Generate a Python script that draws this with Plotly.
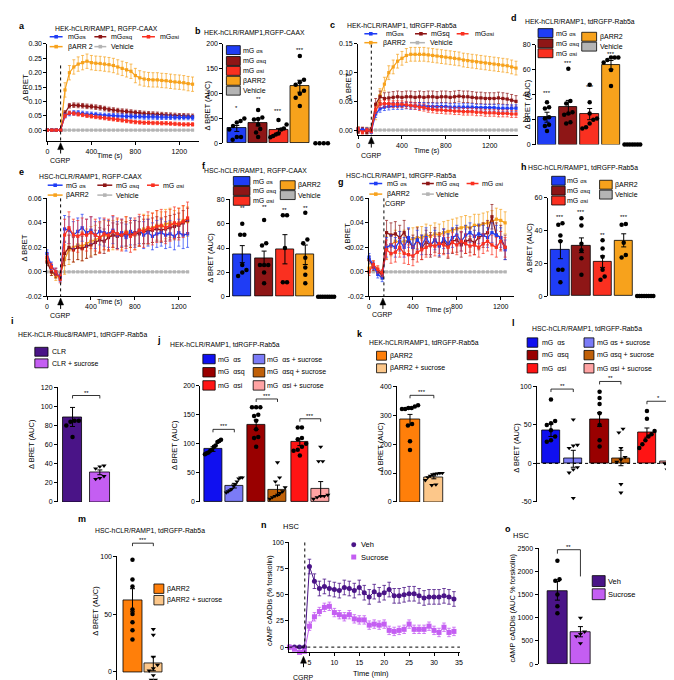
import plotly.graph_objects as go

W, H = 674, 680
FONT = "Liberation Sans, Arial, Helvetica, sans-serif"

# ------------------------------------------------------------------ data
# time-course panels (Delta BRET)
T_A = [0, 40, 80, 120, 160, 200, 240, 280, 320, 360, 400, 440, 480, 520, 560, 600, 640, 680, 720, 760,
       800, 840, 880, 920, 960, 1000, 1040, 1080, 1120, 1160, 1200, 1240, 1280, 1320]
A_S = [0.000, 0.000, 0.000, 0.000, 0.050, 0.058, 0.060, 0.060, 0.058, 0.056, 0.055, 0.054, 0.052, 0.051,
       0.050, 0.050, 0.049, 0.049, 0.048, 0.048, 0.047, 0.047, 0.046, 0.046, 0.046, 0.045, 0.045, 0.045,
       0.045, 0.044, 0.044, 0.044, 0.044, 0.043]
A_SQ = [0.000, 0.000, 0.000, 0.000, 0.060, 0.085, 0.087, 0.086, 0.085, 0.083, 0.082, 0.080, 0.078, 0.075,
        0.072, 0.070, 0.068, 0.066, 0.065, 0.063, 0.061, 0.060, 0.058, 0.057, 0.056, 0.055, 0.054, 0.053,
        0.052, 0.051, 0.050, 0.050, 0.049, 0.048]
A_SI = [0.000, 0.000, 0.000, 0.000, 0.050, 0.060, 0.058, 0.055, 0.053, 0.050, 0.048, 0.046, 0.044, 0.042,
        0.040, 0.038, 0.036, 0.034, 0.032, 0.030, 0.028, 0.027, 0.026, 0.026, 0.025, 0.025, 0.024, 0.024,
        0.023, 0.022, 0.021, 0.020, 0.020, 0.020]
A_ARR = [0.000, 0.000, 0.000, 0.000, 0.140, 0.200, 0.220, 0.230, 0.235, 0.240, 0.235, 0.233, 0.232, 0.230,
         0.228, 0.225, 0.220, 0.215, 0.210, 0.205, 0.190, 0.182, 0.178, 0.176, 0.175, 0.175, 0.173, 0.172,
         0.170, 0.168, 0.167, 0.165, 0.162, 0.160]
A_VEH = [0.0, 0.0, 0.0, 0.0, 0.0, 0.0, 0.0, 0.0, 0.0, 0.0, 0.0, 0.0, 0.0, 0.0, 0.0, 0.0, 0.0, 0.0, 0.0, 0.0,
         0.0, 0.0, 0.0, 0.0, 0.0, 0.0, 0.0, 0.0, 0.0, 0.0, 0.0, 0.0, 0.0, 0.0]
A_ERR = [0.008, 0.008, 0.006, 0.025, 0.001]   # post-CGRP SEM for S, SQ, SI, ARR, Vehicle

T_C = [0, 40, 80, 120, 160, 200, 240, 280, 320, 360, 400, 440, 480, 520, 560, 600, 640, 680, 720, 760,
       800, 840, 880, 920, 960, 1000, 1040, 1080, 1120, 1160, 1200, 1240, 1280, 1320, 1360, 1400, 1440]
C_S = [0.002, 0.000, 0.001, -0.003, 0.028, 0.037, 0.040, 0.041, 0.042, 0.042, 0.042, 0.043, 0.042, 0.042,
       0.042, 0.042, 0.041, 0.041, 0.041, 0.041, 0.041, 0.040, 0.040, 0.040, 0.040, 0.040, 0.040, 0.039,
       0.039, 0.039, 0.039, 0.039, 0.038, 0.038, 0.038, 0.038, 0.038]
C_SQ = [-0.003, 0.002, -0.004, 0.002, 0.045, 0.058, 0.055, 0.056, 0.057, 0.058, 0.057, 0.058, 0.058, 0.057,
        0.058, 0.057, 0.058, 0.058, 0.057, 0.058, 0.058, 0.057, 0.058, 0.059, 0.058, 0.058, 0.057, 0.056,
        0.056, 0.055, 0.055, 0.055, 0.056, 0.055, 0.054, 0.052, 0.050]
C_SI = [0.002, -0.004, 0.000, -0.002, 0.035, 0.045, 0.046, 0.046, 0.045, 0.045, 0.045, 0.044, 0.043, 0.042,
        0.040, 0.039, 0.037, 0.036, 0.035, 0.035, 0.034, 0.034, 0.033, 0.033, 0.032, 0.032, 0.032, 0.031,
        0.031, 0.030, 0.030, 0.030, 0.029, 0.029, 0.029, 0.028, 0.028]
C_ARR = [0.003, -0.002, 0.002, 0.000, 0.030, 0.060, 0.080, 0.100, 0.110, 0.120, 0.125, 0.130, 0.132, 0.132,
         0.132, 0.132, 0.131, 0.130, 0.129, 0.128, 0.127, 0.126, 0.125, 0.124, 0.122, 0.121, 0.120, 0.119,
         0.118, 0.117, 0.116, 0.115, 0.114, 0.113, 0.112, 0.110, 0.108]
C_VEH = [0.0, 0.0, 0.0, 0.0, 0.0, 0.0, 0.0, 0.0, 0.0, 0.0, 0.0, 0.0, 0.0, 0.0, 0.0, 0.0, 0.0, 0.0, 0.0, 0.0,
         0.0, 0.0, 0.0, 0.0, 0.0, 0.0, 0.0, 0.0, 0.0, 0.0, 0.0, 0.0, 0.0, 0.0, 0.0, 0.0, 0.0]
C_ERR = [0.006, 0.010, 0.006, 0.012, 0.001]

T_E = [0, 40, 80, 120, 160, 200, 240, 280, 320, 360, 400, 440, 480, 520, 560, 600, 640, 680, 720, 760,
       800, 840, 880, 920, 960, 1000, 1040, 1080, 1120, 1160, 1200, 1240, 1280]
E_S = [0.015, 0.005, 0.000, -0.005, 0.035, 0.034, 0.030, 0.033, 0.036, 0.032, 0.034, 0.030, 0.033, 0.032,
       0.031, 0.034, 0.030, 0.032, 0.028, 0.033, 0.031, 0.034, 0.030, 0.032, 0.029, 0.031, 0.032, 0.030,
       0.031, 0.029, 0.032, 0.030, 0.031]
E_SQ = [0.008, 0.000, -0.002, -0.004, 0.015, 0.020, 0.018, 0.020, 0.019, 0.021, 0.022, 0.024, 0.026, 0.025,
        0.028, 0.030, 0.029, 0.030, 0.031, 0.030, 0.032, 0.031, 0.033, 0.033, 0.034, 0.035, 0.034, 0.035,
        0.036, 0.037, 0.038, 0.040, 0.042]
E_SI = [0.012, 0.004, 0.000, -0.006, 0.030, 0.036, 0.030, 0.029, 0.031, 0.030, 0.032, 0.030, 0.028, 0.031,
        0.030, 0.033, 0.031, 0.030, 0.032, 0.029, 0.031, 0.034, 0.033, 0.036, 0.035, 0.037, 0.038, 0.036,
        0.038, 0.040, 0.039, 0.041, 0.044]
E_ARR = [0.010, 0.000, -0.004, -0.003, 0.010, 0.018, 0.020, 0.022, 0.021, 0.023, 0.025, 0.026, 0.028, 0.030,
         0.029, 0.030, 0.031, 0.030, 0.033, 0.032, 0.030, 0.033, 0.035, 0.034, 0.036, 0.038, 0.037, 0.039,
         0.040, 0.038, 0.040, 0.042, 0.041]
E_VEH = [0.0, 0.0, 0.0, 0.0, 0.0, 0.0, 0.0, 0.0, 0.0, 0.0, 0.0, 0.0, 0.0, 0.0, 0.0, 0.0, 0.0, 0.0, 0.0, 0.0,
         0.0, 0.0, 0.0, 0.0, 0.0, 0.0, 0.0, 0.0, 0.0, 0.0, 0.0, 0.0, 0.0]
E_ERR = [0.011, 0.010, 0.013, 0.012, 0.001]

T_G = [0, 40, 80, 120, 160, 200, 240, 280, 320, 360, 400, 440, 480, 520, 560, 600, 640, 680, 720, 760,
       800, 840, 880, 920, 960, 1000, 1040, 1080, 1120, 1160, 1200, 1240]
G_S = [0.012, 0.005, -0.002, -0.005, 0.020, 0.022, 0.020, 0.025, 0.020, 0.028, 0.020, 0.026, 0.022, 0.028,
       0.022, 0.026, 0.021, 0.027, 0.023, 0.028, 0.030, 0.025, 0.030, 0.032, 0.029, 0.031, 0.030, 0.028,
       0.032, 0.030, 0.028, 0.018]
G_SQ = [0.010, 0.004, 0.000, -0.002, 0.032, 0.030, 0.031, 0.028, 0.032, 0.025, 0.020, 0.026, 0.020, 0.024,
        0.022, 0.026, 0.022, 0.025, 0.021, 0.025, 0.026, 0.022, 0.025, 0.026, 0.024, 0.028, 0.030, 0.032,
        0.045, 0.030, 0.028, 0.020]
G_SI = [0.000, 0.006, 0.002, -0.001, 0.018, 0.015, 0.016, 0.020, 0.015, 0.014, 0.013, 0.016, 0.018, 0.020,
        0.022, 0.021, 0.023, 0.022, 0.020, 0.024, 0.022, 0.025, 0.023, 0.021, 0.022, 0.020, 0.023, 0.025,
        0.022, 0.020, 0.025, 0.020]
G_ARR = [0.003, 0.006, 0.001, -0.003, 0.020, 0.022, 0.025, 0.024, 0.025, 0.026, 0.027, 0.028, 0.028, 0.030,
         0.029, 0.031, 0.030, 0.032, 0.033, 0.034, 0.035, 0.036, 0.037, 0.036, 0.038, 0.038, 0.039, 0.040,
         0.041, 0.043, 0.042, 0.040]
G_VEH = [0.0, 0.0, 0.0, 0.0, 0.0, 0.0, 0.0, 0.0, 0.0, 0.0, 0.0, 0.0, 0.0, 0.0, 0.0, 0.0, 0.0, 0.0, 0.0, 0.0,
         0.0, 0.0, 0.0, 0.0, 0.0, 0.0, 0.0, 0.0, 0.0, 0.0, 0.0, 0.0]
G_ERR = [0.008, 0.010, 0.008, 0.009, 0.001]
PRE_ERR = 0.003
CGRP_T = 130

# AUC bar panels
B_VALS = [30, 42, 26, 115]
B_ERR = [6, 7, 4, 12]
B_S = [7, 13, 13, 28, 35, 42, 45, 50]
B_SQ = [13, 22, 29, 38, 48, 49, 52, 67]
B_SI = [12, 15, 18, 20, 28, 30, 38, 47]
B_ARR = [75, 92, 100, 106, 118, 123, 128, 176]
B_V = [0, 0, 0, 0]

D_VALS = [22, 30, 24.5, 64]
D_ERR = [4, 5.5, 4.5, 3.5]
D_S = [11, 15, 16, 21, 22, 29, 30, 34]
D_SQ = [17, 18, 24, 25, 26, 33, 35, 61]
D_SI = [13, 14, 17, 20, 21, 25, 34, 48]
D_ARR = [47, 60, 66, 68, 70, 70, 70]
D_V = [0, 0, 0, 0, 0, 0, 0]

F_VALS = [35, 31.5, 39, 34.5]
F_ERR = [7, 6, 12, 8]
F_S = [17, 20, 22, 26, 51, 51, 60]
F_SQ = [11, 20, 26, 26, 26, 42, 44, 63]
F_SI = [12, 12, 40, 67, 67]
F_ARR = [11, 18, 24, 32, 44, 47, 69]
F_V = [0, 0, 0, 0, 0, 0, 0, 0]

H_VALS = [28.3, 31, 21, 34]
H_ERR = [5.5, 4.5, 3.5, 4]
H_S = [8.5, 16, 16, 33.5, 37, 43.5, 44.5]
H_SQ = [13, 23, 28, 32, 43, 47.5]
H_SI = [10, 12, 16, 24, 29, 34]
H_ARR = [23.5, 25, 32.5, 43.5, 44]
H_V = [0, 0, 0, 0, 0, 0, 0, 0]

I_VALS = [89, 31]
I_ERR = [10, 2.5]
I_CLR = [68, 80, 84, 85, 85, 130]
I_SUC = [24, 25, 27, 35, 37, 38]

J_VALS = [91, 28, 133, 20, 103, 22]
J_ERR = [4, 4, 8, 9, 6, 13]
J_S = [82, 84, 85, 88, 90, 95, 97, 103, 105, 107]
J_S_SUC = [16, 18, 20, 22, 28, 30, 35, 40, 42, 42]
J_SQ = [95, 110, 112, 125, 140, 148, 150, 163, 163, 163]
J_SQ_SUC = [5, 8, 10, 12, 15, 18, 25, 35, 42, 68]
J_SI = [80, 88, 90, 95, 100, 108, 110, 128, 128]
J_SI_SUC = [5, 8, 10, 10, 12, 70, 70, 95]

K_VALS = [285, 85]
K_ERR = [18, 5]
K_ARR = [180, 210, 265, 270, 322, 322, 325, 325, 330, 335]
K_SUC = [58, 60, 75, 85, 90, 95, 97, 98, 100, 100]

L_VALS = [43, 6, 57, 7, 40, 3]
L_ERR = [8, 11, 9, 10, 6, 10]
L_S = [28, 30, 35, 43, 50, 52, 55, 83]
L_S_SUC = [-45, -12, -8, -5, 20, 23, 24, 57]
L_SQ = [22, 30, 50, 65, 77, 85, 93]
L_SQ_SUC = [-38, -27, 2, 5, 8, 20, 40, 45]
L_SI = [20, 25, 30, 35, 38, 42, 58, 68]
L_SI_SUC = [-8, -7, 0, 2, 5, 22, 42]

M_VALS = [62, 7]
M_ERR = [10, 6]
M_ARR = [28, 36, 43, 50, 54, 74, 80, 97, 102]
M_SUC = [-7, -7, -3, 1, 3, 6, 13, 32, 37]

# cAMP time course (panel n) and AUC (panel o)
T_N = [1, 2, 3, 4, 5, 6, 7, 8, 9, 10, 11, 12, 13, 14, 15, 16, 17, 18, 19, 20, 21, 22, 23, 24, 25, 26, 27,
       28, 29, 30, 31, 32, 33, 34]
N_VEH = [0, 0, 0, 0, 77, 63, 56, 58, 56, 55, 54, 57, 56, 54, 57, 52, 48, 53, 50, 52, 55, 49, 49, 50, 51, 51,
         49, 47, 48, 48, 48, 49, 48, 46]
N_SUC = [0, -2, -5, -4, 20, 29, 34, 38, 39, 33, 31, 29, 31, 27, 26, 26, 21, 22, 21, 22, 16, 15, 16, 17, 22,
         17, 17, 17, 20, 16, 14, 19, 14, 15]
N_ERR = [7, 4]

O_VALS = [1580, 700]
O_ERR = [200, 110]
O_VEH = [1100, 1250, 1500, 1800, 1830, 2230]
O_SUC = [450, 600, 650, 700, 1000]

# ------------------------------------------------------------------ styling
C_BLUE, C_DRED, C_RED, C_ORG, C_GREY = '#1f3df5', '#8e1616', '#fa3020', '#f7a21c', '#b4b4b4'
J_COLS = ['#1010f0', '#7b7bf7', '#990000', '#c06008', '#ff1414', '#ffa3a3']
K_COLS = ['#ff7f0a', '#fcc78a']
P_COLS = ['#4a1487', '#c45ef2']

fig = go.Figure()
ANN, SHP = [], []
NAX = [0]


def PX(x):
    return x / W


def PY(y):
    return 1 - y / H


def text(x, y, s, size=7, anchor='center', bold=False, angle=0, yanchor='middle'):
    if bold:
        s = '<b>' + s + '</b>'
    ANN.append(dict(x=PX(x), y=PY(y), xref='paper', yref='paper', text=s, showarrow=False,
                    font=dict(size=size, color='black', family=FONT), xanchor=anchor,
                    yanchor=yanchor, textangle=angle, borderpad=0))


def axes(xdom, ydom, xr, yr, yt, ytt, xt=None, xtt=None, xvis=True):
    NAX[0] += 1
    k = '' if NAX[0] == 1 else str(NAX[0])
    common = dict(showline=True, linecolor='black', linewidth=1, ticks='outside', ticklen=3,
                  tickwidth=1, tickcolor='black', showgrid=False, zeroline=False,
                  tickfont=dict(size=7, family=FONT, color='black'), fixedrange=True)
    xa = dict(common, domain=[PX(xdom[0]), PX(xdom[1])], range=xr, anchor='y' + k)
    if xt is not None:
        xa.update(tickmode='array', tickvals=xt, ticktext=xtt)
    if not xvis:
        xa.update(visible=False)
    ya = dict(common, domain=[PY(ydom[1]), PY(ydom[0])], range=yr, anchor='x' + k,
              tickmode='array', tickvals=yt, ticktext=ytt)
    fig.update_layout({'xaxis' + k: xa, 'yaxis' + k: ya})
    return 'x' + k, 'y' + k


def swarm(vals, center, ypx, dx=4.2, thr=4.2, maxw=18):
    order = sorted(range(len(vals)), key=lambda i: vals[i])
    clusters = []
    for i in order:
        if clusters and abs(vals[i] - vals[clusters[-1][-1]]) * ypx < thr:
            clusters[-1].append(i)
        else:
            clusters.append([i])
    xs = [center] * len(vals)
    for cl in clusters:
        k = len(cl)
        d = min(dx, maxw / k) if k > 1 else 0
        for j, i in enumerate(cl):
            xs[i] = center + (j - (k - 1) / 2) * d
    return xs


def bar_panel(xdom, ydom, yr, yt, centers, bw, vals, errs, colors, groups, symbols, ytt=None):
    xa, ya = axes(xdom, ydom, [xdom[0], xdom[1]], yr, yt, ytt or [str(v) for v in yt], xvis=False)
    ypx = (ydom[1] - ydom[0]) / (yr[1] - yr[0])
    fig.add_trace(go.Bar(x=centers[:len(vals)], y=vals, width=bw,
                         marker=dict(color=colors, line=dict(color='black', width=0.8)),
                         error_y=dict(type='data', array=errs, color='black', thickness=1, width=2.5),
                         xaxis=xa, yaxis=ya, showlegend=False))
    for c, g, s in zip(centers, groups, symbols):
        xs = swarm(g, c, ypx, maxw=bw)
        fig.add_trace(go.Scatter(x=xs, y=g, mode='markers', cliponaxis=False, showlegend=False,
                                 marker=dict(symbol=s, size=4.5, color='black'), xaxis=xa, yaxis=ya))
    return xa, ya


def ts_panel(xdom, ydom, xr, yr, yt, ytt, T, series, colors, errs):
    xa, ya = axes(xdom, ydom, xr, yr, yt, ytt, xt=[0, 400, 800, 1200], xtt=['0', '400', '800', '1200'])
    for vals, col, e in zip(series, colors, errs):
        err = [PRE_ERR if t < CGRP_T else e for t in T]
        if col == C_GREY:
            err = [0 for t in T]
        fig.add_trace(go.Scatter(x=T, y=vals, mode='lines+markers', cliponaxis=False, showlegend=False,
                                 line=dict(color=col, width=1.2),
                                 marker=dict(color=col, size=3.2, symbol='square'),
                                 error_y=dict(type='data', array=err, color=col, thickness=0.7, width=1.5),
                                 xaxis=xa, yaxis=ya))
    return xa, ya


def ts_leg(x0, x1, y, col, label, tx):
    SHP.append(dict(type='line', xref='paper', yref='paper', x0=PX(x0), x1=PX(x1), y0=PY(y), y1=PY(y),
                    line=dict(color=col, width=1.5)))
    xm = (x0 + x1) / 2
    SHP.append(dict(type='rect', xref='paper', yref='paper', x0=PX(xm - 1.8), x1=PX(xm + 1.8),
                    y0=PY(y + 1.8), y1=PY(y - 1.8), fillcolor=col, line=dict(width=0)))
    text(tx, y, label, anchor='left')


def box_leg(x0, x1, yc, h, col, label, tx, size=7):
    SHP.append(dict(type='rect', xref='paper', yref='paper', x0=PX(x0), x1=PX(x1),
                    y0=PY(yc + h / 2), y1=PY(yc - h / 2), fillcolor=col, line=dict(color='black', width=0.8)))
    text(tx, yc, label, anchor='left', size=size)


def vdot(x, y0, y1):
    SHP.append(dict(type='line', xref='paper', yref='paper', x0=PX(x), x1=PX(x), y0=PY(y0), y1=PY(y1),
                    line=dict(color='black', width=1, dash='dot')))


def arrow(x, ytop, label_y):
    path = f"M {PX(x)},{PY(ytop)} L {PX(x - 3)},{PY(ytop + 7)} L {PX(x + 3)},{PY(ytop + 7)} Z"
    SHP.append(dict(type='path', path=path, xref='paper', yref='paper', fillcolor='black',
                    line=dict(color='black', width=0.5)))
    SHP.append(dict(type='line', xref='paper', yref='paper', x0=PX(x), x1=PX(x), y0=PY(ytop + 7),
                    y1=PY(ytop + 11), line=dict(color='black', width=1)))
    text(x, label_y, 'CGRP', size=7)


def bracket(x0, x1, y, stars, tick=3, tick_r=None):
    tr = tick if tick_r is None else tick_r
    path = (f"M {PX(x0)},{PY(y + tick)} L {PX(x0)},{PY(y)} L {PX(x1)},{PY(y)} "
            f"L {PX(x1)},{PY(y + tr)}")
    SHP.append(dict(type='path', path=path, xref='paper', yref='paper', line=dict(color='black', width=0.8)))
    text((x0 + x1) / 2, y - 3, stars, size=6)


def sub(s):
    return '<span style="font-size:6px">' + s + '</span>'


MG = ['mG' + sub('αs'), 'mG' + sub('αsq'), 'mG' + sub('αsi')]
MG2 = ['mG ' + sub('αs'), 'mG ' + sub('αsq'), 'mG ' + sub('αsi')]
TS_COLS = [C_GREY, C_ORG, C_DRED, C_BLUE, C_RED]
BAR_COLS = [C_BLUE, C_DRED, C_RED, C_ORG]
SQ_T = ['circle'] * 5

# ------------------------------------------------------------------ panel a
ts_panel([37.7, 190], [32.3, 130.7], [0, 1375], [-0.039, 0.30],
         [0, 0.05, 0.10, 0.15, 0.20, 0.25, 0.30], ['0.00', '0.05', '0.10', '0.15', '0.20', '0.25', '0.30'],
         T_A, [A_VEH, A_ARR, A_SQ, A_S, A_SI], TS_COLS,
         [A_ERR[4], A_ERR[3], A_ERR[1], A_ERR[0], A_ERR[2]])
text(12, 14, 'a', size=9, bold=True)
text(97.5, 17, 'HEK-hCLR/RAMP1, RGFP-CAAX', size=6.8)
ts_leg(40, 53, 25, C_BLUE, MG[0], 57)
ts_leg(85, 97, 25, C_DRED, MG[1], 101)
ts_leg(133, 146, 25, C_RED, MG[2], 150)
ts_leg(40, 53, 35, C_ORG, 'βARR 2', 57)
ts_leg(85, 97, 35, C_GREY, 'Vehicle', 101)
text(15, 76, 'Δ BRET', size=7.5, angle=-90)
text(100, 145, 'Time (s)', size=7)
vdot(51, 54, 130.7)
arrow(51, 132, 150)

# ------------------------------------------------------------------ panel b
bar_panel([215, 326], [32.3, 132.7], [0, 200], [0, 50, 100, 150, 200],
          [228.5, 250, 270.5, 292, 314], 19, B_VALS, B_ERR, BAR_COLS,
          [B_S, B_SQ, B_SI, B_ARR, B_V], SQ_T)
text(189, 19, 'b', size=9, bold=True)
text(246.5, 21, 'HEK-hCLR/RAMP1,RGFP-CAAX', size=6.8)
for yc, col, lab in zip([38.5, 49.5, 59.5, 69.5, 79.5], [C_BLUE, C_DRED, C_RED, C_ORG, C_GREY],
                        MG2 + ['βARR2', 'Vehicle']):
    box_leg(218, 232, yc, 9, col, lab, 234)
text(198, 95, 'Δ BRET (AUC)', size=7.5, angle=-90)
for x, y, s in [(228.5, 97, '*'), (250, 88, '**'), (270.5, 100, '***'), (292, 38, '***')]:
    text(x, y, s, size=6)

# ------------------------------------------------------------------ panel c
ts_panel([350.7, 512], [32.3, 124.5], [0, 1460], [-0.009, 0.15],
         [0, 0.05, 0.10, 0.15], ['0.00', '0.05', '0.10', '0.15'],
         T_C, [C_VEH, C_ARR, C_SQ, C_S, C_SI], TS_COLS,
         [C_ERR[4], C_ERR[3], C_ERR[1], C_ERR[0], C_ERR[2]])
text(325, 13, 'c', size=9, bold=True)
text(395, 14, 'HEK-hCLR/RAMP1, tdRGFP-Rab5a', size=6.8)
ts_leg(357, 370, 22, C_BLUE, MG[0], 378)
ts_leg(408, 420, 22, C_DRED, 'mGsq', 423)
ts_leg(450, 462, 22, C_RED, MG[2], 467)
ts_leg(357, 370, 31, C_ORG, 'βARR2', 375)
ts_leg(403, 418, 31, C_GREY, 'Vehicle', 422)
text(341, 75, 'Δ BRET', size=7.5, angle=-90)
text(420, 140, 'Time (s)', size=7)
vdot(364, 33, 124.5)
arrow(364, 126, 145)

# ------------------------------------------------------------------ panel d
bar_panel([530, 640], [33.3, 134], [0, 80], [0, 20, 40, 60, 80],
          [541, 562.5, 584, 605.5, 627], 18.5, D_VALS, D_ERR, BAR_COLS,
          [D_S, D_SQ, D_SI, D_ARR, D_V], SQ_T)
text(508, 6, 'd', size=9, bold=True)
text(574, 10, 'HEK-hCLR/RAMP1, tdRGFP-Rab5a', size=6.8)
for yc, col, lab in zip([21.3, 31.7, 41.7], [C_BLUE, C_DRED, C_RED], MG2):
    box_leg(532, 547, yc, 9, col, lab, 549)
box_leg(576, 591, 25, 9, C_ORG, 'βARR2', 593)
box_leg(576, 591, 35, 9, C_GREY, 'Vehicle', 593)
text(521, 93, 'Δ BRET (AUC)', size=7.5, angle=-90)
for x, y, s in [(541, 82, '***'), (562.5, 52, '***'), (584, 76, '***'), (605.5, 42, '***')]:
    text(x, y, s, size=6)

# ------------------------------------------------------------------ panel e
ts_panel([37.3, 182], [188.3, 287.3], [0, 1308], [-0.02, 0.06],
         [-0.02, 0, 0.02, 0.04, 0.06], ['-0.02', '0.00', '0.02', '0.04', '0.06'],
         T_E, [E_VEH, E_ARR, E_SQ, E_S, E_SI], TS_COLS,
         [E_ERR[4], E_ERR[3], E_ERR[1], E_ERR[0], E_ERR[2]])
text(12, 162, 'e', size=9, bold=True)
text(81, 166, 'HSC-hCLR/RAMP1, RGFP-CAAX', size=6.8)
ts_leg(38, 53, 175, C_BLUE, MG2[0], 55)
ts_leg(88, 103, 175, C_DRED, MG2[1], 106)
ts_leg(138, 150, 175, C_RED, MG2[2], 153)
ts_leg(38, 53, 185, C_ORG, 'βARR2', 55)
ts_leg(88, 103, 185, C_GREY, 'Vehicle', 106)
text(15, 238, 'Δ BRET', size=7.5, angle=-90)
text(100, 293, 'Time (s)', size=7)
vdot(51, 188.3, 287.3)
arrow(51, 289, 306.5)

# ------------------------------------------------------------------ panel f
bar_panel([221.7, 330], [189.3, 287.7], [0, 80], [0, 20, 40, 60, 80],
          [234, 256, 277, 297.5, 318.5], 18.5, F_VALS, F_ERR, BAR_COLS,
          [F_S, F_SQ, F_SI, F_ARR, F_V], SQ_T)
text(195, 156, 'f', size=9, bold=True)
text(247.5, 160, 'HSC-hCLR/RAMP1, RGFP-CAAX', size=6.8)
for yc, col, lab in zip([170.8, 180.8, 190.8], [C_BLUE, C_DRED, C_RED], MG2):
    box_leg(225, 241.7, yc, 9, col, lab, 244)
box_leg(272.3, 287.3, 175, 9, C_ORG, 'βARR2', 289)
box_leg(272.3, 287.3, 185, 9, C_GREY, 'Vehicle', 289)
text(201.7, 248, 'Δ BRET (AUC)', size=7.5, angle=-90)
for x, y, s in [(234, 198, '**'), (256, 197, '**'), (277, 200, '**'), (297.5, 198, '**')]:
    text(x, y, s, size=6)

# ------------------------------------------------------------------ panel g
ts_panel([361.7, 508], [188.3, 287.3], [0, 1323], [-0.02, 0.06],
         [-0.02, 0, 0.02, 0.04, 0.06], ['-0.02', '0.00', '0.02', '0.04', '0.06'],
         T_G, [G_VEH, G_ARR, G_SQ, G_S, G_SI], TS_COLS,
         [G_ERR[4], G_ERR[3], G_ERR[1], G_ERR[0], G_ERR[2]])
text(333, 172, 'g', size=9, bold=True)
text(394, 165, 'HSC-hCLR/RAMP1, tdRGFP-Rab5a', size=6.8)
ts_leg(362, 375, 173.3, C_BLUE, MG2[0], 379)
ts_leg(415, 427, 173.3, C_DRED, MG2[1], 428.5)
ts_leg(460, 472, 173.3, C_RED, MG2[2], 475)
ts_leg(362, 375, 184, C_ORG, 'βARR2', 379)
ts_leg(415, 427, 184, C_GREY, 'Vehicle', 428.5)
text(340, 227, 'Δ BRET', size=7.5, angle=-90)
text(432, 301.5, 'Time (s)', size=7)
text(388, 193.5, 'CGRP', size=7)
vdot(376.7, 188.3, 287.3)
arrow(375.7, 289, 306)

# ------------------------------------------------------------------ panel h
bar_panel([541.7, 652], [187.7, 287], [0, 60], [0, 20, 40, 60],
          [554.5, 575.7, 597, 618.3, 640], 18.7, H_VALS, H_ERR, BAR_COLS,
          [H_S, H_SQ, H_SI, H_ARR, H_V], SQ_T)
text(518, 157, 'h', size=9, bold=True)
text(577.5, 157.5, 'HSC-hCLR/RAMP1, tdRGFP-Rab5a', size=6.8)
for yc, col, lab in zip([170.5, 180.5, 190.5], [C_BLUE, C_DRED, C_RED], MG2):
    box_leg(545.7, 559.3, yc, 9, col, lab, 560.5)
box_leg(594, 606.7, 174.5, 9, C_ORG, 'βARR2', 608.3)
box_leg(594, 606.7, 184.5, 9, C_GREY, 'Vehicle', 608.3)
text(523, 238, 'Δ BRET (AUC)', size=7.5, angle=-90)
for x, y, s in [(554.5, 207, '***'), (575.7, 202, '***'), (597, 225, '**'), (618.3, 207, '***')]:
    text(x, y, s, size=6)

# ------------------------------------------------------------------ panel i
bar_panel([48.3, 106], [379.3, 495], [0, 120], [0, 20, 40, 60, 80, 100, 120],
          [63, 90.5], 19.5, I_VALS, I_ERR, P_COLS, [I_CLR, I_SUC], ['circle', 'triangle-down'])
text(3, 312, 'i', size=9, bold=True)
text(73, 326, 'HEK-hCLR-Rluc8/RAMP1, tdRGFP-Rab5a', size=6.8)
box_leg(25, 38.3, 343.3, 9, P_COLS[0], 'CLR', 41)
box_leg(25, 38.3, 355, 9, P_COLS[1], 'CLR + sucrose', 41)
text(21.7, 437, 'Δ BRET (AUC)', size=7.5, angle=-90)
bracket(63, 90.5, 387.5, '**')

# ------------------------------------------------------------------ panel j
bar_panel([191.7, 325], [377.7, 495], [0, 200], [0, 50, 100, 150, 200],
          [204.5, 226, 248, 269.5, 292, 313], 18, J_VALS, J_ERR, J_COLS,
          [J_S, J_S_SUC, J_SQ, J_SQ_SUC, J_SI, J_SI_SUC],
          ['circle', 'triangle-down'] * 3)
text(150, 331, 'j', size=9, bold=True)
text(217, 336, 'HEK-hCLR/RAMP1, tdRGFP-Rab5a', size=6.8)
for yc, c1, c2, l1, l2 in zip([350.7, 364, 377.3], J_COLS[0::2], J_COLS[1::2],
                              ['mG  αs', 'mG  αsq', 'mG  αsi'],
                              ['mG  αs + sucrose', 'mG  αsq + sucrose', 'mG  αsi + sucrose']):
    box_leg(194.3, 206.7, yc, 9.5, c1, l1, 208.3)
    box_leg(245, 256.7, yc, 9.5, c2, l2, 258.3)
text(165.7, 437, 'Δ BRET (AUC)', size=7.5, angle=-90)
bracket(204.5, 226, 421.7, '***')
bracket(248, 269.5, 391, '***')
bracket(292, 313, 411, '***')

# ------------------------------------------------------------------ panel k
bar_panel([390, 442], [378.3, 495], [0, 400], [0, 100, 200, 300, 400],
          [403, 427], 19.5, K_VALS, K_ERR, K_COLS, [K_ARR, K_SUC], ['circle', 'triangle-down'])
text(353, 325, 'k', size=9, bold=True)
text(417.5, 334, 'HEK-hCLR/RAMP1, tdRGFP-Rab5a', size=6.8)
box_leg(369.3, 379.3, 347.3, 9, K_COLS[0], 'βARR2', 381.7)
box_leg(369.3, 379.3, 360, 9, K_COLS[1], 'βARR2 + sucrose', 381.7)
text(373.3, 440, 'Δ BRET (AUC)', size=7.5, angle=-90)
bracket(403, 427, 387.3, '***')

# ------------------------------------------------------------------ panel l
xl, yl = bar_panel([531, 674], [378.3, 495], [-50, 100], [-50, 0, 50, 100],
                   [545, 567.5, 594, 615.5, 641.7, 664], 18.5, L_VALS, L_ERR, J_COLS,
                   [L_S, L_S_SUC, L_SQ, L_SQ_SUC, L_SI, L_SI_SUC],
                   ['circle', 'triangle-down'] * 3)
SHP.append(dict(type='line', xref=xl + ' domain', yref=yl, x0=0, x1=1, y0=0, y1=0,
                line=dict(color='black', width=1, dash='dot')))
text(507, 314, 'l', size=9, bold=True)
text(581, 320, 'HSC-hCLR/RAMP1, tdRGFP-Rab5a', size=6.8)
for yc, c1, c2, l1, l2 in zip([334, 346.7, 360], J_COLS[0::2], J_COLS[1::2],
                              ['mG  αs', 'mG  αsq', 'mG  αsi'],
                              ['mG αs + sucrose', 'mG αsq + sucrose', 'mG αsi + sucrose']):
    box_leg(521, 531.7, yc, 9.5, c1, l1, 535)
    box_leg(578.3, 588.3, yc, 9.5, c2, l2, 590.7)
text(510, 440, 'Δ BRET (AUC)', size=7.5, angle=-90)
bracket(545, 567.5, 381, '**')
bracket(594, 615.5, 373.3, '**')
bracket(641.7, 664, 393.3, '*')

# ------------------------------------------------------------------ panel m
bar_panel([108.2, 160], [550, 679], [-10.5, 100], [0, 50, 100],
          [123.4, 144.4], 19, M_VALS, M_ERR, K_COLS, [M_ARR, M_SUC], ['circle', 'triangle-down'])
text(72.7, 512, 'm', size=9, bold=True)
text(140.7, 524, 'HSC-hCLR/RAMP1, tdRGFP-Rab5a', size=6.8)
box_leg(145, 155, 582.7, 9.5, K_COLS[0], 'βARR2', 156.7)
box_leg(145, 155, 594.3, 9.5, K_COLS[1], 'βARR2 + sucrose', 156.7)
text(86.6, 605, 'Δ BRET (AUC)', size=7.5, angle=-90)
bracket(123.4, 144.4, 536.7, '***')

# ------------------------------------------------------------------ panel n
xn, yn = axes([281.4, 453.3], [536, 647], [0.96, 35.2], [-5.0, 100],
              [0, 25, 50, 75, 100], ['0', '25', '50', '75', '100'],
              xt=[5, 10, 15, 20, 25, 30, 35], xtt=['5', '10', '15', '20', '25', '30', '35'])
for vals, col, sym, e in [(N_VEH, P_COLS[0], 'circle', N_ERR[0]), (N_SUC, P_COLS[1], 'square', N_ERR[1])]:
    err = [1 if t < 5 else e for t in T_N]
    fig.add_trace(go.Scatter(x=T_N, y=vals, mode='lines+markers', cliponaxis=False, showlegend=False,
                             line=dict(color=col, width=1), marker=dict(color=col, size=5, symbol=sym),
                             error_y=dict(type='data', array=err, color=col, thickness=0.8, width=1.8),
                             xaxis=xn, yaxis=yn))
SHP.append(dict(type='line', xref=xn + ' domain', yref=yn, x0=0, x1=1, y0=0, y1=0,
                line=dict(color='black', width=1, dash='dot')))
text(255.4, 518, 'n', size=9, bold=True)
text(283.5, 520, 'HSC', size=7.5)
text(262, 595, 'cAMP cADDis (% forskolin)', size=7.5, angle=-90)
text(363.6, 668.5, 'Time (min)', size=7.5)
SHP.append(dict(type='circle', xref='paper', yref='paper', x0=PX(343.8), x1=PX(348.8), y0=PY(540.8),
                y1=PY(535.8), fillcolor=P_COLS[0], line=dict(width=0)))
text(353, 538.3, 'Veh', size=7.5, anchor='left')
SHP.append(dict(type='rect', xref='paper', yref='paper', x0=PX(343.8), x1=PX(348.8), y0=PY(553.2),
                y1=PY(548.2), fillcolor=P_COLS[1], line=dict(width=0)))
text(353, 550.7, 'Sucrose', size=7.5, anchor='left')
vdot(297, 536, 647)
arrow(295.7, 651, 672.5)

# ------------------------------------------------------------------ panel o
bar_panel([532.5, 590], [541.7, 659], [0, 2500], [0, 500, 1000, 1500, 2000, 2500],
          [551.5, 574.7], 20.5, O_VALS, O_ERR, P_COLS, [O_VEH, O_SUC], ['circle', 'triangle-down'])
text(502, 522, 'o', size=9, bold=True)
text(515, 529, 'HSC', size=7.5)
text(506.5, 602, 'cAMP cADDis (AUC % forskolin)', size=7.5, angle=-90)
box_leg(586.6, 599.6, 575, 11, P_COLS[0], 'Veh', 601.7, size=7.5)
box_leg(586.6, 599.6, 588.3, 11, P_COLS[1], 'Sucrose', 601.7, size=7.5)
bracket(551.5, 574.7, 543.3, '**', tick=4, tick_r=27)

# ------------------------------------------------------------------ layout
fig.update_layout(width=W, height=H, autosize=False, margin=dict(l=0, r=0, t=0, b=0),
                  paper_bgcolor='white', plot_bgcolor='rgba(0,0,0,0)', showlegend=False,
                  font=dict(family=FONT, size=7, color='black'), bargap=0,
                  annotations=ANN, shapes=SHP)
fig.write_html("out.html")
